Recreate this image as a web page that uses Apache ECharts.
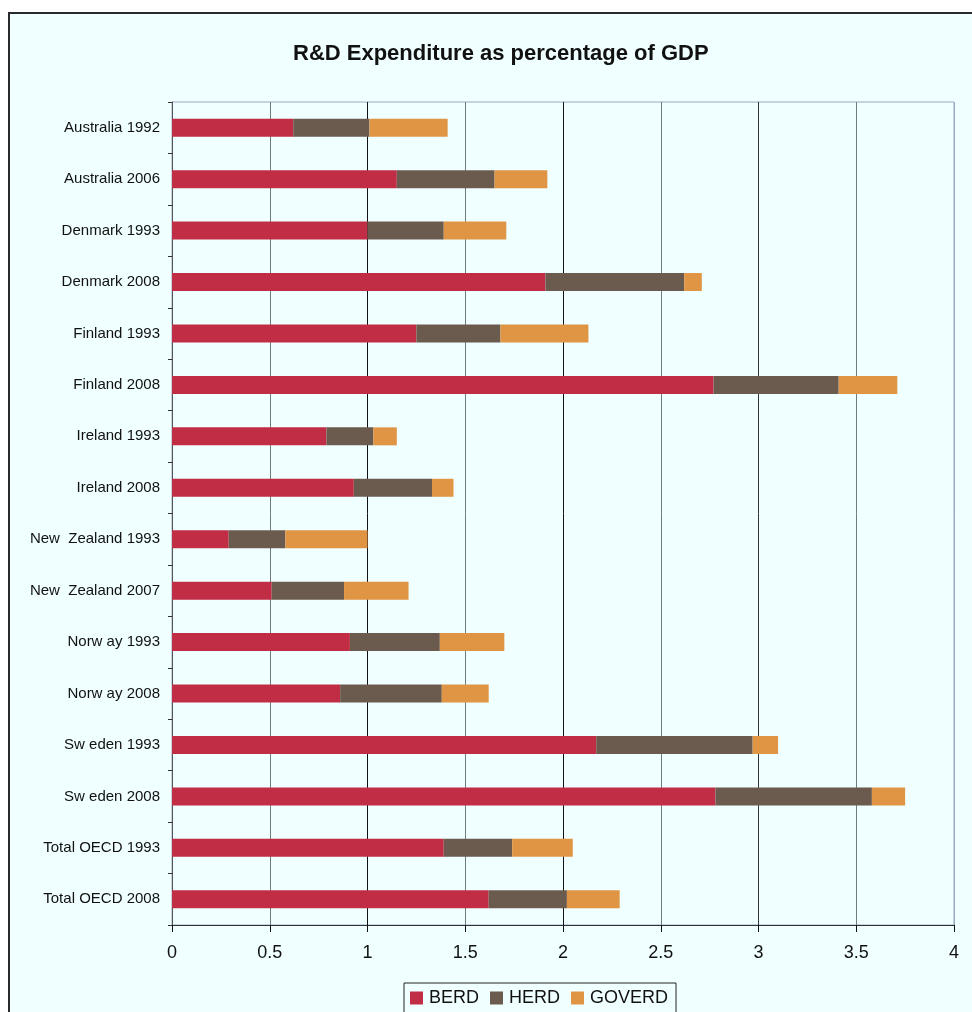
<!DOCTYPE html>
<html>
<head>
<meta charset="utf-8">
<script src="https://cdn.jsdelivr.net/npm/echarts@6/dist/echarts.min.js"></script>
<style>
html,body{margin:0;padding:0;background:#fff;}
#chart{width:972px;height:1012px;}
</style>
</head>
<body>
<div id="chart"></div>
<script>
const categories = ["Australia 1992","Australia 2006","Denmark 1993","Denmark 2008","Finland 1993","Finland 2008","Ireland 1993","Ireland 2008","New  Zealand 1993","New  Zealand 2007","Norw ay 1993","Norw ay 2008","Sw eden 1993","Sw eden 2008","Total OECD 1993","Total OECD 2008"];
const berd   = [0.62,1.15,1.00,1.91,1.25,2.77,0.79,0.93,0.29,0.51,0.91,0.86,2.17,2.78,1.39,1.62];
const herd   = [0.39,0.50,0.39,0.71,0.43,0.64,0.24,0.40,0.29,0.37,0.46,0.52,0.80,0.80,0.35,0.40];
const goverd = [0.40,0.27,0.32,0.09,0.45,0.30,0.12,0.11,0.42,0.33,0.33,0.24,0.13,0.17,0.31,0.27];
const seriesNames = ["BERD","HERD","GOVERD"];
const xTicks = [0,0.5,1,1.5,2,2.5,3,3.5,4];

const font = "'Liberation Sans', Arial, sans-serif";
const chart = echarts.init(document.getElementById('chart'), null, {renderer:'canvas'});
const colors = ['#C12D44','#6B5B4E','#E09545'];
const data = [berd, herd, goverd];

chart.setOption({
  animation:false,
  textStyle:{fontFamily:font},
  graphic:[{
    type:'rect', z:-10, silent:true,
    shape:{x:9,y:13,width:1000,height:1050},
    style:{fill:'#F0FFFF', stroke:'#2a2a2a', lineWidth:2}
  }],
  title:{
    text:'R&D Expenditure as percentage of GDP',
    left:288, top:38,
    textStyle:{fontFamily:font, fontSize:22, fontWeight:'bold', color:'#111'}
  },
  legend:{
    data:seriesNames,
    left:404, top:983,
    orient:'horizontal',
    icon:'rect', itemWidth:13, itemHeight:13, itemGap:11,
    borderColor:'#222', borderWidth:1, padding:[6,8,6,6],
    textStyle:{fontFamily:font, fontSize:18, color:'#111', padding:[0,0,0,1]}
  },
  grid:{
    left:172, right:18, top:102, bottom:87,
    show:true, backgroundColor:'#F0FFFF', borderColor:'#9AA8C4', borderWidth:1
  },
  xAxis:{
    type:'value', min:0, max:4, interval:0.5,
    axisLine:{show:true, lineStyle:{color:'#333', width:1}},
    axisTick:{show:true, length:7, lineStyle:{color:'#111'}},
    axisLabel:{fontFamily:font, fontSize:18, color:'#111', margin:19,
      formatter:v=>String(v)},
    splitLine:{show:true, lineStyle:{width:1,
      color:['#222','#6F7C7C','#111','#6F7C7C','#111','#6F7C7C','#333','#6F7C7C','#9AA8C4']}}
  },
  yAxis:{
    type:'category', data:categories, inverse:true,
    axisLine:{show:true, lineStyle:{color:'#555', width:1}},
    axisTick:{show:true, length:4, alignWithLabel:false, lineStyle:{color:'#333'}},
    axisLabel:{fontFamily:font, fontSize:15, color:'#111', margin:12}
  },
  series: seriesNames.map((n,i)=>({
    name:n, type:'bar', stack:'total', barWidth:18,
    itemStyle:{color:colors[i]},
    data:data[i]
  }))
});
</script>
</body>
</html>
